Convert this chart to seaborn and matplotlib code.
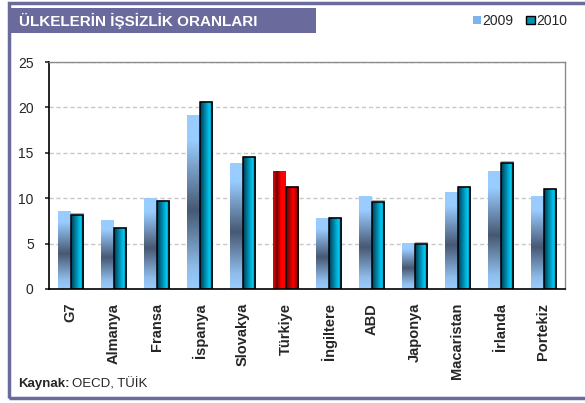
import numpy as np
import pandas as pd
import seaborn as sns
import matplotlib.pyplot as plt
from matplotlib.colors import LinearSegmentedColormap
from matplotlib.patches import Rectangle, Patch

ulkeler = ['G7', 'Almanya', 'Fransa', 'İspanya', 'Slovakya', 'Türkiye',
           'İngiltere', 'ABD', 'Japonya', 'Macaristan', 'İrlanda', 'Portekiz']
oran_2009 = [8.6, 7.6, 10.0, 19.2, 13.9, 13.0, 7.8, 10.2, 5.1, 10.7, 13.0, 10.2]
oran_2010 = [8.2, 6.7, 9.7, 20.6, 14.5, 11.2, 7.8, 9.6, 5.0, 11.2, 13.9, 11.0]
yillar = ['2009', '2010']

df = pd.DataFrame({
    'ulke': ulkeler * 2,
    'oran': oran_2009 + oran_2010,
    'yil': ['2009'] * len(ulkeler) + ['2010'] * len(ulkeler),
})

W, H = 585, 403
frame_col = '#6A6A9C'

sns.set_style('white')
plt.rcParams['font.family'] = ['Liberation Sans', 'DejaVu Sans']

fig = plt.figure(figsize=(W / 100, H / 100), dpi=100)
ax = fig.add_axes([49 / W, 1 - 289 / H, 516 / W, 227 / H])

sns.barplot(data=df, x='ulke', y='oran', hue='yil', hue_order=yillar,
            palette=['#99CCFF', '#0099BB'], width=0.6, ax=ax,
            legend=False, saturation=1)

# gradyan renkler
cm_09 = LinearSegmentedColormap.from_list('c09', [
    (0.0, '#99CCFF'), (0.12, '#8FBDEB'), (0.45, '#475873'),
    (0.85, '#99CCFF'), (1.0, '#99CCFF')])
cm_10 = LinearSegmentedColormap.from_list('c10', [
    (0.0, '#003A52'), (0.3, '#007595'), (0.75, '#00CCF5'), (1.0, '#004E66')])
cm_tr09 = LinearSegmentedColormap.from_list('t09', [
    (0.0, '#FF0000'), (0.3, '#700000'), (0.62, '#FF0000'), (1.0, '#FF0000')])
cm_tr10 = LinearSegmentedColormap.from_list('t10', [
    (0.0, '#600000'), (0.55, '#FF0000'), (1.0, '#6A0000')])

vert = np.linspace(0, 1, 256).reshape(-1, 1)   # alttan üste
horiz = np.linspace(0, 1, 256).reshape(1, -1)
tr = ulkeler.index('Türkiye')

for k, cont in enumerate(ax.containers):
    for i, bar in enumerate(cont):
        x, y = bar.get_x(), bar.get_y()
        w, h = bar.get_width(), bar.get_height()
        if k == 0:
            if i == tr:
                img, cmap = horiz, cm_tr09
            else:
                img, cmap = vert, cm_09
        else:
            img, cmap = horiz, (cm_tr10 if i == tr else cm_10)
        im = ax.imshow(img, cmap=cmap, extent=[x, x + w, y, y + h],
                       origin='lower', aspect='auto', zorder=2,
                       interpolation='bilinear')
        im.set_clip_path(bar)
        bar.set_facecolor('none')
        if k == 1:
            bar.set_edgecolor('black')
            bar.set_linewidth(1.1)
            bar.set_zorder(3)
            sh = Rectangle((x + 0.02, y), w, h + 0.15, facecolor='#B0B0B0',
                           edgecolor='none', zorder=1.5)
            ax.add_patch(sh)
        else:
            bar.set_linewidth(0)

ax.set_xlim(-0.5, len(ulkeler) - 0.5)
ax.set_ylim(0, 25)
ax.set_yticks(range(0, 26, 5))
ax.set_xlabel('')
ax.set_ylabel('')

ax.yaxis.grid(True, color='#C8C8C8', linestyle=(0, (3, 2)), linewidth=1)
ax.set_axisbelow(True)
for s in ['top', 'right']:
    ax.spines[s].set_color('#8A8A8A')
    ax.spines[s].set_linewidth(1)
for s in ['left', 'bottom']:
    ax.spines[s].set_color('black')
    ax.spines[s].set_linewidth(1.2)

ax.set_xticks(range(len(ulkeler)))
ax.set_xticklabels(ulkeler, rotation=90, fontsize=10.5, fontweight='bold')
ax.tick_params(axis='x', length=0, pad=10)
ax.set_xticks(np.arange(-0.5, len(ulkeler)), minor=True)
ax.tick_params(axis='x', which='minor', length=4, width=1.2,
               direction='out', color='black')
ax.tick_params(axis='y', length=3, width=1.2, direction='out',
               labelsize=10, pad=8, left=True)

# çerçeve ve başlık
fig.add_artist(Rectangle((8.5 / W, 1 - 397.5 / H), 600 / W, 395 / H,
                         transform=fig.transFigure, facecolor='none',
                         edgecolor=frame_col, linewidth=2.5))
fig.add_artist(Rectangle((10 / W, 1 - 33 / H), 306 / W, 25 / H,
                         transform=fig.transFigure, facecolor=frame_col,
                         edgecolor='none'))
fig.text(19 / W, 1 - 21 / H, 'ÜLKELERİN İŞSİZLİK ORANLARI', color='white',
         fontsize=11, fontweight='bold', va='center', ha='left')

handles = [Patch(facecolor='#7FB2EE', edgecolor='none'),
           Patch(facecolor='#0090B0', edgecolor='black', linewidth=1)]
fig.legend(handles, yillar, loc='center left',
           bbox_to_anchor=(466 / W, 1 - 21 / H), ncol=2, frameon=False,
           fontsize=10, handlelength=0.6, handleheight=0.5,
           handletextpad=0.1, columnspacing=0.9, borderpad=0)

fig.text(18 / W, 1 - 384 / H, 'Kaynak:', fontsize=9.5, fontweight='bold',
         va='center', ha='left')
fig.text(72 / W, 1 - 384 / H, 'OECD, TÜİK', fontsize=9.5,
         va='center', ha='left')

fig.savefig('out.png', dpi=100)
